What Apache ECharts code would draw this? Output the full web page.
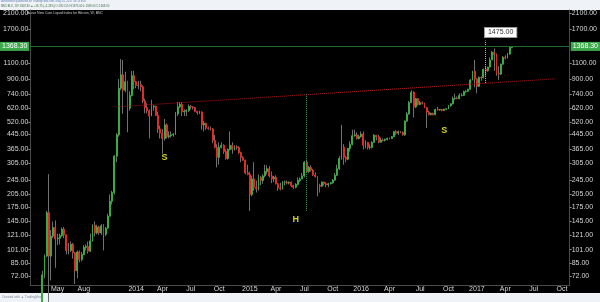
<!DOCTYPE html>
<html><head><meta charset="utf-8">
<script src="https://cdn.jsdelivr.net/npm/echarts@6/dist/echarts.min.js"></script>
<style>
html,body{margin:0;padding:0;background:#eff2f6;}
#wrap{position:relative;width:600px;height:302px;overflow:hidden;}
#bg{position:absolute;left:0;top:10px;width:600px;height:283px;background:#000;}
#chart{position:absolute;left:0;top:0;width:600px;height:302px;}
</style></head><body>
<div id="wrap"><div id="bg"></div><div id="chart"></div></div>
<script>
// ---- data ----
const startWeekUTC = Date.UTC(2013, 1, 11);   // first weekly category (Mon)
const weekCount = 247;
const firstCandleIndex = 5;                    // 2013-03-18
// weekly candles [open, close, low, high]
const ohlc = [
[47,73,45,77],[73,93,70,95],[93,162,92,166],[162,93,50,266],[93,120,68,130],
[120,134,117,145],[134,116,80,147],[116,117,107,124],[117,121,108,124],[121,131,119,134],
[131,122,117,135],[122,100,95,123],[100,100,95,110],[100,108,98,112],[108,97,90,110],
[97,77,65,98],[77,98,70,100],[98,89,86,100],[89,95,87,98],[95,104,94,107],
[104,105,100,108],[105,99,96,112],[99,113,98,124],[113,138,112,140],[138,125,120,145],
[125,135,123,139],[135,125,122,137],[125,137,122,140],[137,123,100,140],[123,133,120,135],
[133,155,132,160],[155,188,155,205],[188,210,180,215],[210,335,205,340],[335,440,310,450],
[440,800,430,900],[800,950,780,1163],[950,780,576,1150],[780,870,760,990],[870,620,455,880],
[620,730,600,770],[730,940,720,1000],[940,870,790,1000],[870,830,800,880],[830,830,790,880],
[840,815,770,880],[815,680,660,830],[680,625,580,700],[625,600,580,660],[600,560,420,610],
[560,630,560,690],[630,635,600,645],[635,565,560,640],[565,475,450,590],[475,450,420,495],
[450,420,345,475],[420,500,410,540],[500,430,420,510],[430,435,420,460],[435,440,425,460],
[440,445,430,450],[445,575,440,590],[575,630,560,670],[630,650,620,670],[650,590,560,670],
[590,595,560,610],[595,600,560,610],[600,635,590,650],[635,630,610,645],[630,625,610,635],
[625,595,590,630],[595,585,570,600],[585,590,575,600],[590,500,470,595],[500,510,460,525],
[510,480,470,515],[480,478,470,490],[478,475,465,490],[475,410,395,480],[410,375,370,440],
[375,330,290,390],[330,375,300,400],[375,385,370,400],[385,355,345,390],[355,325,320,365],
[325,365,320,370],[365,385,360,460],[385,365,345,400],[365,378,360,385],[378,375,365,385],
[375,350,345,380],[350,330,310,355],[330,318,315,335],[318,270,265,320],[270,265,262,300],
[265,205,166,275],[205,250,200,260],[250,225,215,310],[225,220,210,245],[220,255,215,265],
[255,245,230,260],[245,260,235,265],[260,275,255,300],[275,285,265,298],[285,260,255,295],
[260,250,237,275],[250,255,240,260],[255,235,233,262],[235,223,215,237],[223,220,216,238],
[220,240,218,243],[240,240,230,245],[240,237,233,245],[237,240,233,242],[240,230,225,242],
[230,225,220,232],[225,233,222,237],[233,245,230,255],[245,250,240,255],[250,260,250,270],
[260,310,255,315],[310,275,270,320],[275,290,270,295],[290,280,275,298],[280,263,260,285],
[263,258,255,272],[258,230,200,260],[230,228,210,235],[228,240,225,242],[240,235,230,242],
[235,232,225,240],[232,235,225,238],[235,238,233,240],[238,246,235,250],[246,262,245,270],
[262,285,260,300],[285,325,280,335],[325,375,320,500],[375,330,300,390],[330,322,310,335],
[322,370,318,372],[370,390,355,405],[390,435,385,470],[435,440,430,470],[440,420,415,455],
[420,430,415,440],[430,445,425,460],[445,385,365,460],[385,400,370,410],[400,375,365,400],
[375,375,365,390],[375,400,370,405],[400,438,400,445],[438,430,410,440],[430,400,395,440],
[400,412,400,425],[412,410,405,420],[410,415,405,420],[415,420,410,425],[420,420,415,425],
[420,430,418,432],[430,458,428,462],[458,450,440,468],[450,458,440,465],[458,455,450,462],
[455,440,435,460],[440,525,435,530],[525,575,520,590],[575,665,570,680],[665,760,660,780],
[760,630,550,770],[630,700,620,705],[700,650,640,705],[650,665,645,680],[665,660,650,675],
[660,625,620,665],[625,590,480,630],[590,570,565,600],[570,580,565,585],[580,570,565,585],
[570,610,565,615],[610,605,600,630],[605,610,600,612],[610,602,595,612],[602,612,600,615],
[612,615,605,620],[615,640,612,645],[640,655,630,660],[655,700,650,720],[700,705,690,745],
[705,700,695,720],[700,730,695,750],[730,730,720,750],[730,765,725,775],[765,770,755,780],
[770,790,765,795],[790,890,785,900],[890,995,885,1000],[995,900,810,1150],[900,820,750,910],
[820,920,815,930],[920,915,880,930],[915,1020,910,1030],[1020,1000,940,1060],[1000,1050,990,1055],
[1050,1150,1045,1190],[1150,1270,1150,1290],[1270,1230,1000,1330],[1230,970,940,1250],[970,960,890,1060],
[960,1090,950,1100],[1090,1190,1080,1210],[1190,1180,1160,1220],[1180,1240,1170,1260],[1240,1350,1230,1355],
[1350,1368.3,1340,1375]
];
const yTickValues = [72,85,101,121,145,175,205,245,305,365,445,520,620,740,900,1100,1700,2100];
const xTickLabels = {
  '2013-05-06':'May','2013-07-29':'Aug','2014-01-13':'2014','2014-04-07':'Apr','2014-07-07':'Jul',
  '2014-10-06':'Oct','2015-01-12':'2015','2015-04-06':'Apr','2015-07-06':'Jul','2015-10-05':'Oct',
  '2016-01-04':'2016','2016-04-04':'Apr','2016-07-11':'Jul','2016-10-10':'Oct','2017-01-09':'2017',
  '2017-04-10':'Apr','2017-07-10':'Jul','2017-10-09':'Oct'
};
const lastPrice = 1368.30;
const targetPrice = 1475.00;
// drawings: [categoryIndex, price]
const necklineStart = [39, 631], necklineEnd = [240, 903];
const headMeasureTop = [126, 742], headMeasureBottom = [126, 166];
const targetLineBottom = [208, 855];
const patternLabels = [['S', 61, 327], ['H', 121, 149.5], ['S', 189, 468]];

// ---- build ----
const cats = [];
for (let i = 0; i < weekCount; i++) cats.push(new Date(startWeekUTC + i * 604800000).toISOString().slice(0, 10));
const rows = ohlc.map((r, k) => [cats[firstCandleIndex + k], r[0], r[1], r[2], r[3]]);
const bodyRows = ohlc.map((r, k) => [cats[firstCandleIndex + k], r[0], r[1], Math.min(r[0], r[1]), Math.max(r[0], r[1])]);

const FONT = 'Liberation Sans, Arial, sans-serif';
const UP = '#3aaa46', DOWN = '#e02b2b', WICK = '#707070';
function yAxis(pos) {
  return {
    type: 'log', logBase: 10, position: pos, min: 64.16, max: 2182.5,
    axisLine: { show: true, lineStyle: { color: '#4a4a4a', width: 1 } },
    axisTick: { show: true, length: 2, lineStyle: { color: '#888' }, customValues: yTickValues },
    axisLabel: { customValues: yTickValues, formatter: v => Number(v).toFixed(2), color: '#d6d6d6', fontSize: 7, margin: 2, fontFamily: FONT },
    splitLine: { show: false }, minorTick: { show: false }, minorSplitLine: { show: false }
  };
}
const priceLabel = pos => ({
  yAxis: lastPrice,
  label: { show: true, position: pos, formatter: lastPrice.toFixed(2), backgroundColor: '#3ca84c', color: '#fff', padding: [1, 2], fontSize: 7, fontFamily: FONT, distance: 1 },
  lineStyle: { type: 'solid', color: '#1d6a2a', width: 1 }
});

const chart = echarts.init(document.getElementById('chart'), null, { renderer: 'canvas' });
chart.setOption({
  backgroundColor: 'transparent',
  animation: false,
  grid: { left: 23, right: 24, top: 10, bottom: 17, containLabel: false },
  dataset: [{ source: rows }, { source: bodyRows }],
  xAxis: {
    type: 'category', data: cats, boundaryGap: true,
    axisLine: { lineStyle: { color: '#4a4a4a' } }, axisTick: { show: false },
    axisLabel: { interval: (i, v) => Object.prototype.hasOwnProperty.call(xTickLabels, v), formatter: v => xTickLabels[v] || '', color: '#d6d6d6', fontSize: 7, margin: 1, fontFamily: FONT },
    splitLine: { show: false }
  },
  yAxis: [yAxis('left'), yAxis('right')],
  graphic: [
    { type: 'text', left: 27, top: 11, style: { text: 'Brave New Coin Liquid Index for Bitcoin, W, BNC', fill: '#c8c8c8', fontSize: 3.5, fontFamily: FONT } },
    { type: 'text', left: 1, top: 0, style: { text: 'danielonetti published on TradingView.com, May 01, 2017 03:13 EDT', fill: '#5a7fb0', fontSize: 2.8, fontFamily: FONT } },
    { type: 'text', left: 1, top: 4.5, style: { text: 'BNC:BLX, 1W 1368.30 \u25B2 +16.75 (+1.24%) O:1351.55 H:1375.00 L:1349.00 C:1368.30', fill: '#3d6b45', fontSize: 2.8, fontFamily: FONT } },
    { type: 'text', left: 2, top: 295.5, style: { text: 'Created with \u25B2 TradingView', fill: '#7a8a9a', fontSize: 3.2, fontFamily: FONT } }
  ],
  series: [
    {
      type: 'candlestick', name: 'wick', datasetIndex: 0, encode: { x: 0, y: [1, 2, 3, 4] },
      barWidth: 1, silent: true,
      itemStyle: { color: WICK, color0: WICK, borderColor: WICK, borderColor0: WICK, borderWidth: 1 }
    },
    {
      type: 'candlestick', name: 'BLX', datasetIndex: 1, encode: { x: 0, y: [1, 2, 3, 4] },
      barWidth: 1.4, silent: true,
      itemStyle: { color: UP, color0: DOWN, borderColor: UP, borderColor0: DOWN, borderWidth: 1 },
      markLine: {
        silent: true, symbol: ['none', 'none'], animation: false,
        data: [
          [{ coord: necklineStart, lineStyle: { type: 'dotted', color: '#b01818', width: 1 }, label: { show: false } }, { coord: necklineEnd }],
          [{ coord: headMeasureTop, lineStyle: { type: 'dotted', color: '#3f9a52', width: 1 }, label: { show: false } }, { coord: headMeasureBottom }],
          [{ coord: targetLineBottom, lineStyle: { type: 'dotted', color: '#bbbbbb', width: 1 }, label: { show: false } }, { coord: [targetLineBottom[0], targetPrice] }],
          priceLabel('start'),
          priceLabel('end')
        ]
      },
      markPoint: {
        silent: true, animation: false,
        data: patternLabels.map(p => ({
          coord: [p[1], p[2]], value: p[0], symbol: 'rect', symbolSize: 1,
          itemStyle: { color: 'rgba(0,0,0,0)' },
          label: { show: true, position: 'inside', formatter: p[0], color: '#d2d21e', fontWeight: 'bold', fontSize: 9, fontFamily: FONT }
        })).concat([{
          coord: [targetLineBottom[0], targetPrice], symbol: 'rect', symbolSize: 1,
          itemStyle: { color: 'rgba(0,0,0,0)' },
          label: { show: true, position: 'inside', offset: [15, -8], formatter: targetPrice.toFixed(2), backgroundColor: '#ffffff', borderColor: '#9a9a9a', borderWidth: 1, padding: [1, 3], color: '#333', fontSize: 7, fontFamily: FONT }
        }])
      }
    }
  ]
});
</script>
</body></html>
